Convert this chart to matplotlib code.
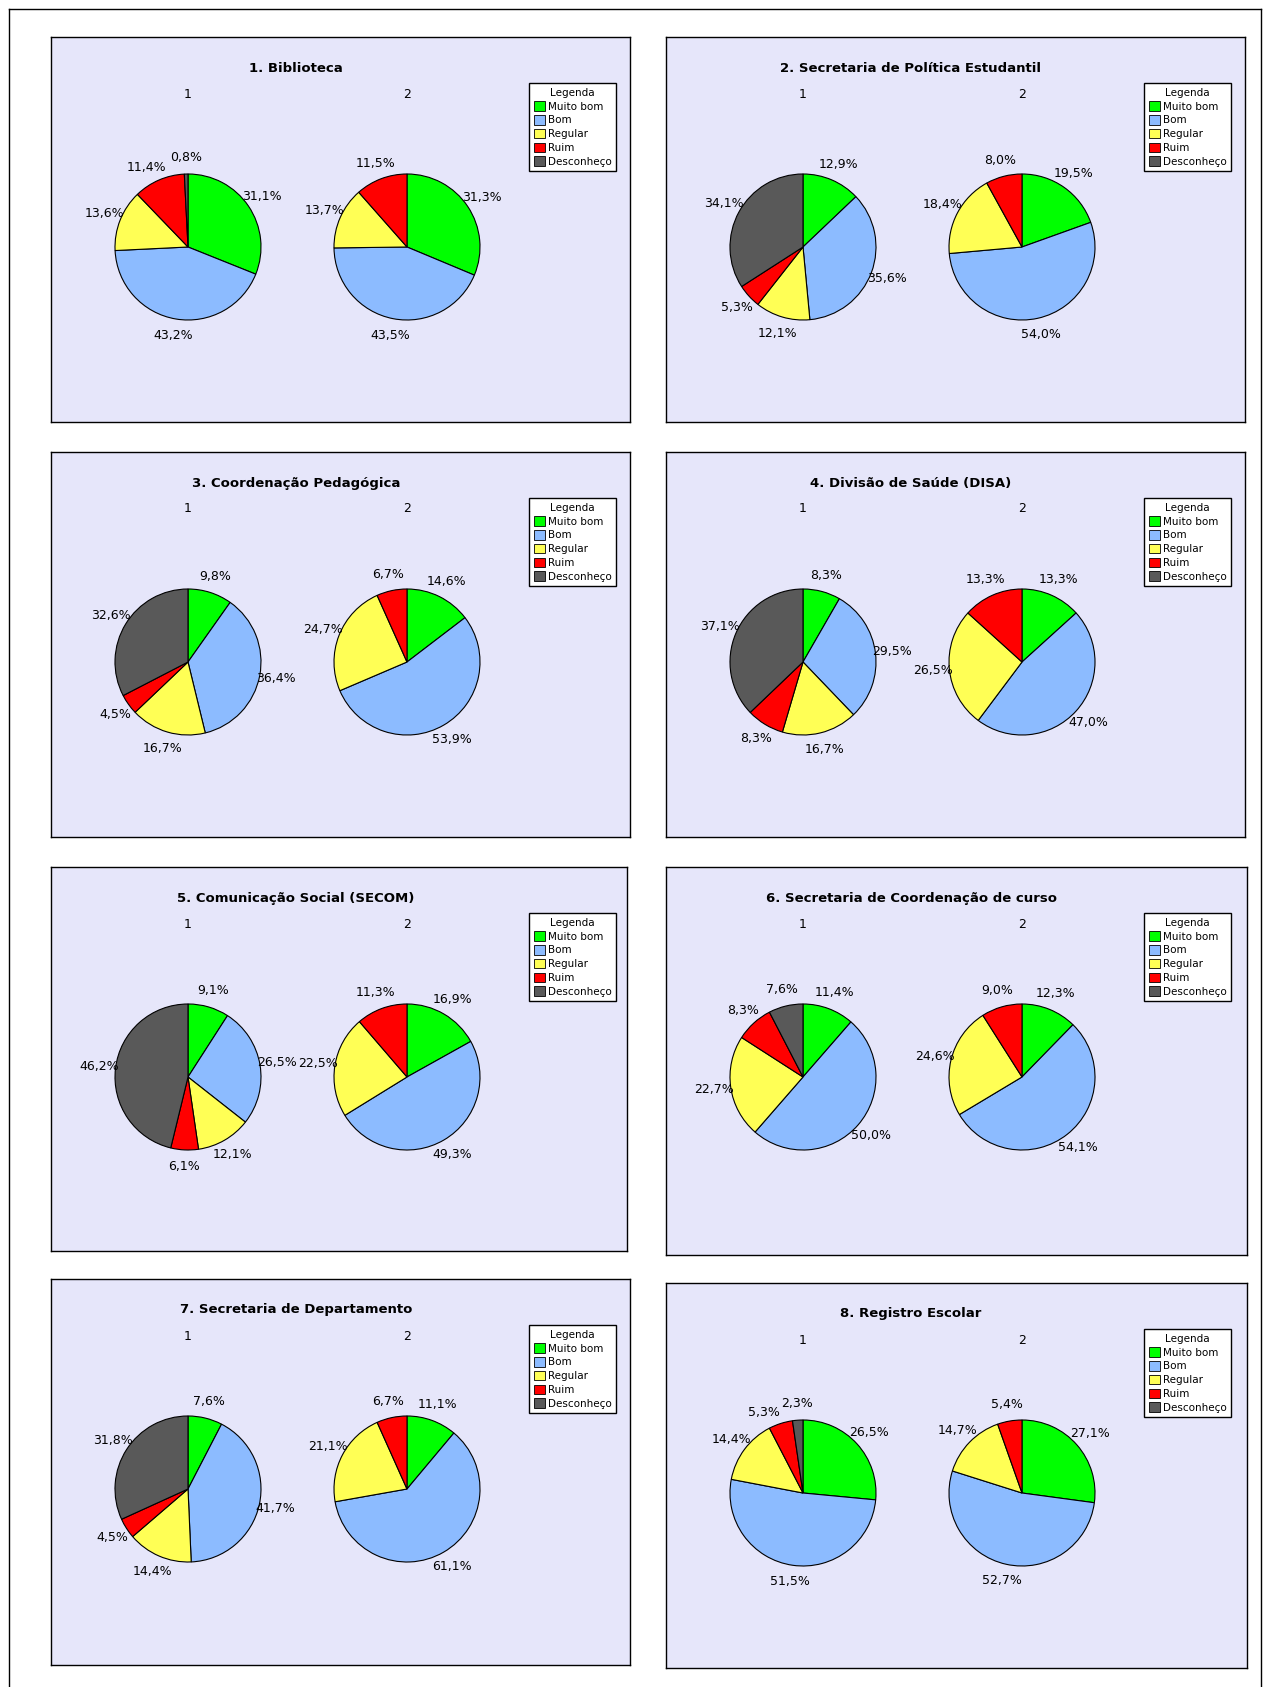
import numpy as np
import matplotlib.pyplot as plt
from matplotlib.patches import Patch
from matplotlib.lines import Line2D

# Categorias e cores da legenda
categorias = ['Muito bom', 'Bom', 'Regular', 'Ruim', 'Desconheço']
cores = ['#00FF00', '#8CBBFF', '#FFFF55', '#FF0000', '#595959']

titulos = [
    '1. Biblioteca',
    '2. Secretaria de Política Estudantil',
    '3. Coordenação Pedagógica',
    '4. Divisão de Saúde (DISA)',
    '5. Comunicação Social (SECOM)',
    '6. Secretaria de Coordenação de curso',
    '7. Secretaria de Departamento',
    '8. Registro Escolar',
]

# Percentuais (Muito bom, Bom, Regular, Ruim, Desconheço)
grupo1 = [
    [31.1, 43.2, 13.6, 11.4, 0.8],
    [12.9, 35.6, 12.1, 5.3, 34.1],
    [9.8, 36.4, 16.7, 4.5, 32.6],
    [8.3, 29.5, 16.7, 8.3, 37.1],
    [9.1, 26.5, 12.1, 6.1, 46.2],
    [11.4, 50.0, 22.7, 8.3, 7.6],
    [7.6, 41.7, 14.4, 4.5, 31.8],
    [26.5, 51.5, 14.4, 5.3, 2.3],
]
grupo2 = [
    [31.3, 43.5, 13.7, 11.5, 0.0],
    [19.5, 54.0, 18.4, 8.0, 0.0],
    [14.6, 53.9, 24.7, 6.7, 0.0],
    [13.3, 47.0, 26.5, 13.3, 0.0],
    [16.9, 49.3, 22.5, 11.3, 0.0],
    [12.3, 54.1, 24.6, 9.0, 0.0],
    [11.1, 61.1, 21.1, 6.7, 0.0],
    [27.1, 52.7, 14.7, 5.4, 0.0],
]
rotulos_pizza = ['1', '2']

# Layout em pixels: (esquerda, topo, largura, altura)
paineis = [
    (51, 37, 579, 385), (666, 37, 579, 385),
    (51, 452, 579, 385), (666, 452, 579, 385),
    (51, 867, 576, 384), (666, 867, 581, 388),
    (51, 1279, 579, 386), (666, 1283, 581, 385),
]

W, H = 1269, 1687
plt.rcParams['font.family'] = ['DejaVu Sans']
fig = plt.figure(figsize=(W / 100, H / 100), dpi=100)
fig.patch.set_facecolor('white')
renderer = fig.canvas.get_renderer()

# moldura externa
for xs, ys in [([9, 9], [9, H + 5]), ([9, 1261], [9, 9]), ([1261, 1261], [9, H + 5])]:
    fig.add_artist(Line2D([x / W for x in xs], [1 - y / H for y in ys],
                          color='black', lw=1.0))

raio = 73
centros_x = [137, 356]
centro_y = 210


def desenha_pizza(ax, valores, cx, cy):
    vals = [v for v in valores if v > 0]
    cols = [c for v, c in zip(valores, cores) if v > 0]
    ax.pie(vals, colors=cols, startangle=90, counterclock=False,
           center=(cx, cy), radius=raio, frame=True,
           wedgeprops=dict(edgecolor='black', linewidth=0.8))
    ax.set_xlim(0, ax.bbox.width)
    ax.set_ylim(0, ax.bbox.height)
    ax.set_aspect('auto')
    total = sum(vals)
    acum = 0
    textos, angulos = [], []
    for v in vals:
        meio = 90 - 360 * (acum + v / 2) / total
        acum += v
        t = ax.text(0, 0, f'{v:.1f}%'.replace('.', ','), ha='center',
                    va='center', fontsize=9)
        textos.append(t)
        angulos.append(meio)

    def posiciona(k):
        a = np.deg2rad(angulos[k])
        textos[k].set_position((cx + 1.23 * raio * np.cos(a),
                                cy + 1.23 * raio * np.sin(a)))

    for k in range(len(textos)):
        posiciona(k)
    # afasta rótulos vizinhos que se sobrepõem
    for k in range(len(textos) - 1):
        for _ in range(30):
            b1 = textos[k].get_window_extent(renderer).expanded(1.05, 1.0)
            b2 = textos[k + 1].get_window_extent(renderer)
            if not b1.overlaps(b2):
                break
            angulos[k] += 2
            posiciona(k)


for i, (esq, topo, w, h) in enumerate(paineis):
    ax = fig.add_axes([esq / W, 1 - (topo + h) / H, w / W, h / H])
    ax.set_facecolor('#E6E6FA')

    for j, valores in enumerate([grupo1[i], grupo2[i]]):
        desenha_pizza(ax, valores, centros_x[j], h - centro_y)
        ax.text(centros_x[j], h - 57, rotulos_pizza[j], ha='center',
                va='center', fontsize=9)

    ax.set_xlim(0, w)
    ax.set_ylim(0, h)
    ax.set_aspect('auto')
    ax.set_xticks([])
    ax.set_yticks([])
    for s in ax.spines.values():
        s.set_color('black')
        s.set_linewidth(1.0)

    ax.text(245, h - 31, titulos[i], ha='center', va='center',
            fontsize=9.5, fontweight='bold')

    alcas = [Patch(facecolor=c, edgecolor='black', linewidth=0.6, label=l)
             for c, l in zip(cores, categorias)]
    ax.legend(handles=alcas, title='Legenda', loc='upper left',
              bbox_to_anchor=(478 / w, 1 - 46 / h), fontsize=7.5,
              title_fontsize=7.5, fancybox=False, edgecolor='black',
              framealpha=1, handlelength=1.05, handleheight=1.05,
              handletextpad=0.3, labelspacing=0.33, borderpad=0.45,
              borderaxespad=0)

fig.savefig('out.png', dpi=100)
